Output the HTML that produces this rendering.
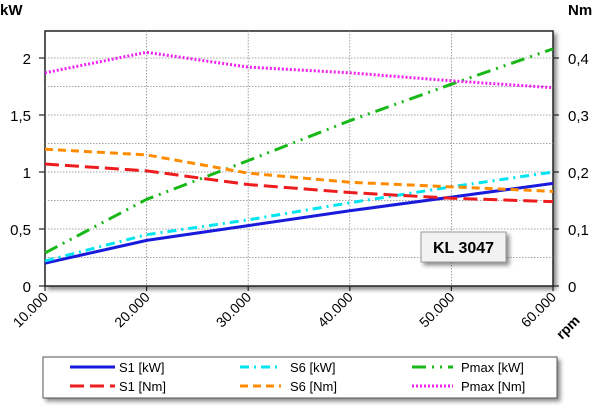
<!DOCTYPE html>
<html><head><meta charset="utf-8"><style>
body{margin:0;background:#fff;width:600px;height:409px;overflow:hidden;font-family:"Liberation Sans",sans-serif}
</style></head><body>
<svg width="600" height="409" xmlns="http://www.w3.org/2000/svg" font-family="Liberation Sans, sans-serif">
<defs><filter id="sh" x="-5%" y="-5%" width="115%" height="130%"><feDropShadow dx="3" dy="3" stdDeviation="2" flood-color="#000" flood-opacity="0.45"/></filter></defs>
<rect x="45" y="31" width="508" height="255" fill="#fff" stroke="#222" stroke-width="1.5" filter="url(#sh)"/>
<g id="grid"></g>
<g id="series"></g>
<g id="axes"></g>
<text x="0" y="15" font-weight="bold" font-size="15">kW</text>
<text x="568" y="15" font-weight="bold" font-size="15">Nm</text>
<text x="562" y="340" font-weight="bold" font-size="14" transform="rotate(-45 562 340)">rpm</text>
<g><rect x="421" y="232" width="85" height="30" fill="#f2f2f2" stroke="#999" filter="url(#sh)"/><text x="463.5" y="253" text-anchor="middle" font-weight="bold" font-size="16">KL 3047</text></g>
<g>
<rect x="43" y="357" width="514" height="41" fill="#fff" stroke="#555" filter="url(#sh)"/>
<g id="legend"></g>
</g>
</svg>
<script>
const rpm=[10000,20000,30000,40000,50000,60000];
const xTicks=["10.000","20.000","30.000","40.000","50.000","60.000"];
const kwTicks=[0,0.5,1,1.5,2];
const kwTickLabels=["0","0,5","1","1,5","2"];
const nmTickLabels=["0","0,1","0,2","0,3","0,4"];
const s1kW=[0.2,0.4,0.53,0.66,0.78,0.9];
const s6kW=[0.22,0.45,0.58,0.73,0.87,1.0];
const pmaxkW=[0.29,0.76,1.1,1.45,1.77,2.08];
const s1Nm=[0.214,0.202,0.178,0.164,0.154,0.148];
const s6Nm=[0.24,0.23,0.198,0.182,0.174,0.166];
const pmaxNm=[0.374,0.41,0.384,0.374,0.36,0.348];
const NS="http://www.w3.org/2000/svg";
const L=45,R=553,B=286,T=31;
const x=v=>L+(v-10000)/50000*(R-L);
const y=v=>B-v*114;
const yN=v=>y(v*5);
function mk(tag,attrs,parent){const e=document.createElementNS(NS,tag);for(const k in attrs)e.setAttribute(k,attrs[k]);parent.appendChild(e);return e;}
const grid=document.getElementById('grid'),axes=document.getElementById('axes'),ser=document.getElementById('series'),leg=document.getElementById('legend');
for(let v=0.25;v<2.25;v+=0.25){const g=mk('line',{x1:L,x2:R,y1:y(v),y2:y(v),stroke:'#888','stroke-width':0.8,'stroke-dasharray':'1.5 1.5'},grid);

}
rpm.slice(1,5).forEach(r=>{const g=mk('line',{x1:x(r),x2:x(r),y1:T,y2:B,stroke:'#888','stroke-width':0.8,'stroke-dasharray':'1.5 1.5'},grid);

});
kwTicks.forEach((v,i)=>{
const t=mk('text',{x:31,y:y(v)+6,'text-anchor':'end','font-size':15},axes);t.textContent=kwTickLabels[i];


const t2=mk('text',{x:568,y:y(v)+6,'font-size':15},axes);t2.textContent=nmTickLabels[i];


mk('line',{x1:L-6,x2:L,y1:y(v),y2:y(v),stroke:'#222','stroke-width':1.2},axes);
mk('line',{x1:R,x2:R+6,y1:y(v),y2:y(v),stroke:'#222','stroke-width':1.2},axes);
});
rpm.forEach((r,i)=>{
mk('line',{x1:x(r),x2:x(r),y1:B,y2:B+5,stroke:'#222','stroke-width':1.2},axes);
const t=mk('text',{x:x(r)+4,y:B+12,'text-anchor':'end','font-size':14,transform:`rotate(-45 ${x(r)+4} ${B+12})`},axes);t.textContent=xTicks[i];


});
const S=[
{d:s1kW,f:y,c:'#1a1adc',da:'',w:3,n:'S1 [kW]',nm:'series-s1-kw'},
{d:s6kW,f:y,c:'#00e5f0',da:'9 5 2 5',w:3,n:'S6 [kW]',nm:'series-s6-kw'},
{d:pmaxkW,f:y,c:'#18b818',da:'14 6 2 6 2 6',w:3,n:'Pmax [kW]',nm:'series-pmax-kw'},
{d:s1Nm,f:yN,c:'#ee1c1c',da:'14 6',w:3,n:'S1 [Nm]',nm:'series-s1-nm'},
{d:s6Nm,f:yN,c:'#ff8c00',da:'8 5',w:3,n:'S6 [Nm]',nm:'series-s6-nm'},
{d:pmaxNm,f:yN,c:'#f020f0',da:'2 2',w:3,n:'Pmax [Nm]',nm:'series-pmax-nm'}];
S.forEach(s=>{const p=mk('polyline',{points:s.d.map((v,i)=>x(rpm[i])+','+s.f(v)).join(' '),fill:'none',stroke:s.c,'stroke-width':s.w,'stroke-dasharray':s.da},ser);

});
const order=[0,1,2,3,4,5],cols=[[70,115,119],[240,281,290],[412,453,461]];
order.forEach(k=>{const s=S[k],col=k%3,row=Math.floor(k/3);const cy=367+row*19;
mk('line',{x1:cols[col][0],x2:cols[col][1],y1:cy,y2:cy,stroke:s.c,'stroke-width':3,'stroke-dasharray':s.da},leg);
const t=mk('text',{x:cols[col][2],y:cy+5,'font-size':13},leg);t.textContent=s.n;

});
</script>
</body></html>
